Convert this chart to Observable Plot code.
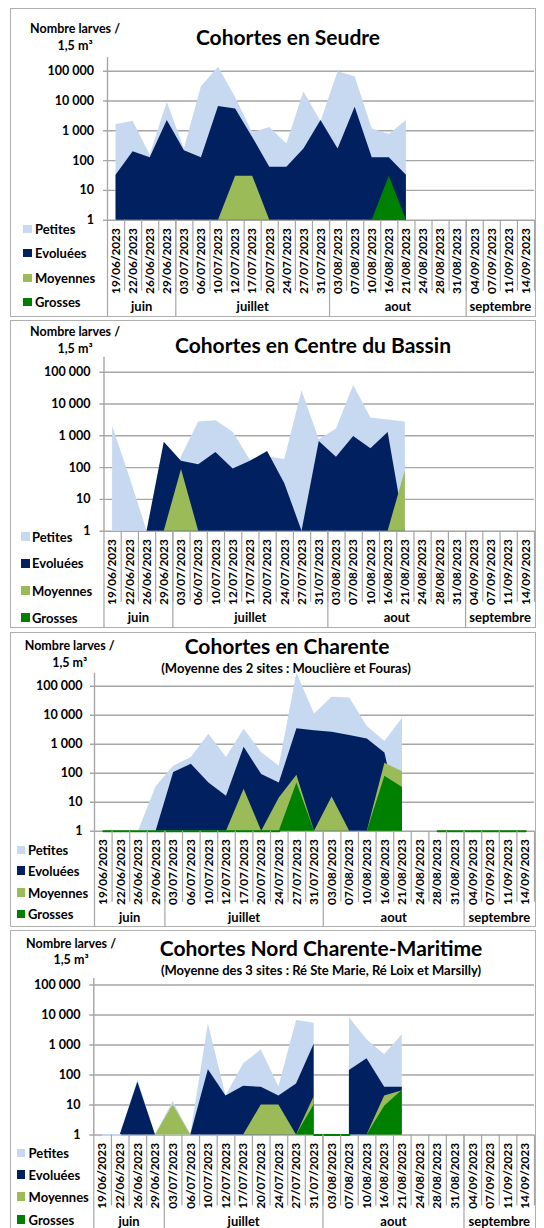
<!DOCTYPE html>
<html><head><meta charset="utf-8">
<script src="https://cdn.jsdelivr.net/npm/d3@7"></script>
<script src="https://cdn.jsdelivr.net/npm/@observablehq/plot@0.6"></script>
<style>
body{margin:0;background:#fff;font-family:Lato,"Open Sans",sans-serif;font-weight:700;color:#000}
#page{position:relative;width:544px;height:1228px;overflow:hidden;background:#fff}
.panel{position:absolute;left:0;width:544px}
.box{position:absolute;left:10px;width:526px;top:0;border:1px solid #b0b0b0;box-sizing:border-box}
.panel svg{position:absolute;left:0;top:0}
.t{position:absolute;transform:translate(-50%,-50%);white-space:nowrap;line-height:1}
.title{font-size:21px}
.sub{font-size:13px}
.ylab{font-size:12.5px}
.leg{position:absolute;height:16px;display:flex;align-items:center;font-size:13px;white-space:nowrap}
.sq{position:absolute;width:8.5px;height:8.5px}
</style></head>
<body><div id="page"></div>
<script>
// ---------- data ----------
const categories = ["19/06/2023","22/06/2023","26/06/2023","29/06/2023","03/07/2023","06/07/2023","10/07/2023","12/07/2023","17/07/2023","20/07/2023","24/07/2023","27/07/2023","31/07/2023","03/08/2023","07/08/2023","10/08/2023","16/08/2023","21/08/2023","24/08/2023","28/08/2023","31/08/2023","04/09/2023","07/09/2023","11/09/2023","14/09/2023"];
const months = ["juin","juillet","aout","septembre"];
const monthCounts = [4, 9, 8, 4];
const yTicks = [1, 10, 100, 1000, 10000, 100000];
const seriesNames = ["Petites","Evoluées","Moyennes","Grosses"];

const seudrePetites  = [1600,2100,150,9000,250,30000,135000,13000,850,1300,360,20000,2000,95000,65000,1150,750,2200];
const seudreEvoluees = [32,200,125,2200,215,125,6500,5400,600,60,60,245,2200,245,6200,125,125,32];
const seudreMoyennes = [0,0,0,0,0,0,0,30,30,0,0,0,0,0,0,0,0,0];
const seudreGrosses  = [0,0,0,0,0,0,0,0,0,0,0,0,0,0,0,0,30,0];

const centrePetites  = [2000,50,0,0,220,2700,3000,1300,170,220,180,26000,750,1650,38000,3600,3150,2700];
const centreEvoluees = [0,0,0,630,158,122,300,91,158,320,31,0,660,213,950,390,1260,0];
const centreMoyennes = [0,0,0,0,87,0,0,0,0,0,0,0,0,0,0,0,0,80];
const centreGrosses  = [0,0,0,0,0,0,0,0,0,0,0,0,0,0,0,0,0,0];

const charentePetites  = [0,0,0,34,175,350,2200,350,3300,510,175,280000,11000,42000,39000,4100,1230,7900];
const charenteEvoluees = [0,0,0,0,106,205,46,16,780,90,46,3400,2900,2600,2000,1500,500,0];
const charenteMoyennes = [0,0,0,0,0,0,0,0,28,0,14,85,0,15,0,0,220,112];
const charenteGrosses  = [0,0,0,0,0,0,0,0,0,0,0,46,0,0,0,0,79,32];
// values sitting on the baseline that are drawn as a thin line (1 = drawn)
const charenteGrossesTrait = [1,1,1,1,1,1,1,1,1,1,1,null,null,null,null,null,null,null,null,1,1,1,1,1,1];

const nordPetites  = [0,0,68,0,13,0,5100,20,235,690,40,6600,5300,null,8100,1500,470,2200];
const nordEvoluees = [0,0,57,0,0,0,150,20,42,39,20,50,1050,null,140,345,39,39];
const nordMoyennes = [0,0,0,0,10,0,0,0,0,10,10,0,19,null,0,0,20,30];
const nordGrosses  = [0,0,0,0,0,0,0,0,0,0,0,0,10,null,0,0,9,31];
const nordPetitesTrait = [1,1];
const nordGrossesTrait = [null,null,null,null,null,null,null,null,null,null,null,null,1,1,1];

// ---------- style ----------
const colors = ["#c6d9f1","#002060","#9bbb59","#008000"];
const grid = "#a6a6a6";
const fmt = d3.format(",");
const tickText = v => fmt(v).replace(/,/g, " ");

const panels = [
  {title:"Cohortes en Seudre", sub:null, series:[seudrePetites,seudreEvoluees,seudreMoyennes,seudreGrosses], traits:[],
   top:8,bottom:317,frameL:107,frameR:534,axisTop:57,baseline:219.7,decade:29.8,pad:9.5,
   titleX:288,titleY:35.5,ylabX:75,ylab1Y:29,ylab2Y:46,legSqX:23,legTextX:35,legYs:[229,253,278,302]},
  {title:"Cohortes en Centre du Bassin", sub:null, series:[centrePetites,centreEvoluees,centreMoyennes,centreGrosses], traits:[],
   top:320,bottom:628,frameL:103.5,frameR:534,axisTop:356.7,baseline:530.7,decade:31.8,pad:9.5,
   titleX:313,titleY:344,ylabX:75,ylab1Y:332.3,ylab2Y:349,legSqX:21,legTextX:32,legYs:[536.7,563.3,590.7,617.7]},
  {title:"Cohortes en Charente", sub:"(Moyenne des 2 sites : Mouclière et Fouras)", series:[charentePetites,charenteEvoluees,charenteMoyennes,charenteGrosses],
   traits:[[3,charenteGrossesTrait]],
   top:632,bottom:927,frameL:94,frameR:534,axisTop:672.7,baseline:830.7,decade:29,pad:8,
   titleX:287,titleY:645,subX:286,subY:668,ylabX:69.7,ylab1Y:646,ylab2Y:662.7,legSqX:16.5,legTextX:27.9,legYs:[850,870.7,892.7,914]},
  {title:"Cohortes Nord Charente-Maritime", sub:"(Moyenne des 3 sites : Ré Ste Marie, Ré Loix et Marsilly)", series:[nordPetites,nordEvoluees,nordMoyennes,nordGrosses],
   traits:[[0,nordPetitesTrait],[3,nordGrossesTrait]],
   top:930,bottom:1236,frameL:93.3,frameR:534,axisTop:978,baseline:1134.5,decade:30,pad:9.3,
   titleX:321,titleY:947,subX:321,subY:969.7,ylabX:71,ylab1Y:944,ylab2Y:960.3,legSqX:16.5,legTextX:28.6,legYs:[1153,1174.7,1196.7,1219.7]}
];

const page = document.getElementById("page");
const n = categories.length;
const edges = categories.map((c, i) => i + 0.5);
const monthEdges = [-0.5, ...d3.cumsum(monthCounts).map(c => c - 0.5).slice(0, -1)];
const monthStarts = [0, ...d3.cumsum(monthCounts)].slice(0, -1);

function rows(arr) { return categories.map((c, i) => ({i, v: i < arr.length ? arr[i] : null})); }

for (const p of panels) {
  const H = p.bottom - p.top;
  const base = p.baseline - p.top;
  const mt = p.axisTop - p.top;
  const mb = H - base;
  const yMax = 10 ** ((p.baseline - p.axisTop) / p.decade);
  const div = document.createElement("div");
  div.className = "panel";
  div.style.top = p.top + "px";
  div.style.height = H + "px";
  page.appendChild(div);
  const box = document.createElement("div");
  box.className = "box"; box.style.height = H + "px";
  div.appendChild(box);

  const marks = [
    Plot.ruleY(yTicks, {y: d => d, x1: () => -0.5, x2: () => n - 0.5, insetLeft: -4, stroke: grid, strokeWidth: 1.4}),
    ...p.series.map((arr, k) => Plot.areaY(rows(arr), {x: "i", y1: () => 1, y2: d => d.v == null ? NaN : Math.max(d.v, 1), fill: colors[k], curve: "linear"})),
    ...p.traits.map(([k, arr]) => Plot.lineY(rows(arr), {x: "i", y: d => d.v == null ? NaN : d.v, stroke: colors[k], strokeWidth: 2})),
    Plot.ruleX(edges, {x: d => d, y1: () => 1, y2: () => 1, insetBottom: -71, stroke: grid, strokeWidth: 1.2}),
    Plot.ruleX(monthEdges, {x: d => d, y1: () => 1, y2: () => 1, insetBottom: -mb, stroke: grid, strokeWidth: 1.2}),
    Plot.ruleX([-0.5], {x: d => d, y1: () => yMax, y2: () => 1, stroke: grid, strokeWidth: 1.4}),
    Plot.text(yTicks, {x: () => -0.5, y: d => d, text: tickText, textAnchor: "end", dx: -(4 + p.pad), fontSize: 12.5, fontWeight: "bold", fill: "#000"}),
    Plot.text(categories, {x: (d, i) => i, y: () => 1, text: d => d, rotate: -90, textAnchor: "end", dy: 8, fontSize: 11.8, fontWeight: "bold", fill: "#000"}),
    Plot.text(months, {x: (d, k) => monthStarts[k] + (monthCounts[k] - 1) / 2, y: () => 1, text: d => d, dy: 87, fontSize: 13, fontWeight: "bold", fill: "#000"})
  ];
  const chart = Plot.plot({
    width: 544, height: H,
    marginTop: mt, marginBottom: mb, marginLeft: p.frameL, marginRight: 544 - p.frameR,
    x: {type: "linear", domain: [-0.5, n - 0.5], axis: null},
    y: {type: "log", domain: [1, yMax], axis: null},
    style: {fontFamily: "Lato, 'Open Sans', sans-serif", background: "transparent", overflow: "visible"},
    marks
  });
  div.appendChild(chart);

  const addText = (txt, x, y, cls) => {
    const t = document.createElement("div");
    t.className = "t " + cls; t.textContent = txt;
    t.style.left = x + "px"; t.style.top = (y - p.top) + "px";
    div.appendChild(t);
  };
  addText(p.title, p.titleX, p.titleY, "title");
  if (p.sub) addText(p.sub, p.subX, p.subY, "sub");
  addText("Nombre larves /", p.ylabX, p.ylab1Y, "ylab");
  addText("1,5 m³", p.ylabX, p.ylab2Y, "ylab");
  seriesNames.forEach((s, k) => {
    const y = p.legYs[k] - p.top;
    const sq = document.createElement("div");
    sq.className = "sq"; sq.style.background = colors[k];
    sq.style.left = p.legSqX + "px"; sq.style.top = (y - 4.25) + "px";
    div.appendChild(sq);
    const l = document.createElement("div");
    l.className = "leg"; l.textContent = s;
    l.style.left = p.legTextX + "px"; l.style.top = (y - 8) + "px";
    div.appendChild(l);
  });
}
</script>
</body></html>
